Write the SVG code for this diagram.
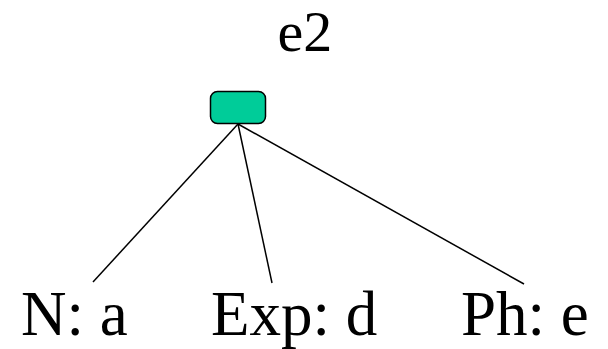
<svg xmlns="http://www.w3.org/2000/svg" width="608" height="349" viewBox="0 0 608 349">
<style>
.lbl{font-family:"Liberation Serif","Times New Roman",serif;fill:#000}
.edge{stroke:#000;stroke-width:1.5;fill:none}
</style>
<rect width="608" height="349" fill="#fff"/>
<g id="connectors">
<line class="edge" x1="238" y1="124" x2="93" y2="282"/>
<line class="edge" x1="238" y1="124" x2="272" y2="283"/>
<line class="edge" x1="238" y1="124" x2="524" y2="284"/>
</g>
<g id="e2">
<text class="lbl" x="277.5" y="51" font-size="58">e2</text>
<rect x="210.5" y="91.5" width="55" height="32" rx="7" fill="#00CC99" stroke="#000" stroke-width="1.5"/>
</g>
<g id="n_a"><text class="lbl" x="21" y="335" font-size="63">N: a</text></g>
<g id="exp_d"><text class="lbl" x="211" y="335" font-size="63">Exp: d</text></g>
<g id="ph_e"><text class="lbl" x="461" y="335" font-size="63">Ph: e</text></g>
</svg>
